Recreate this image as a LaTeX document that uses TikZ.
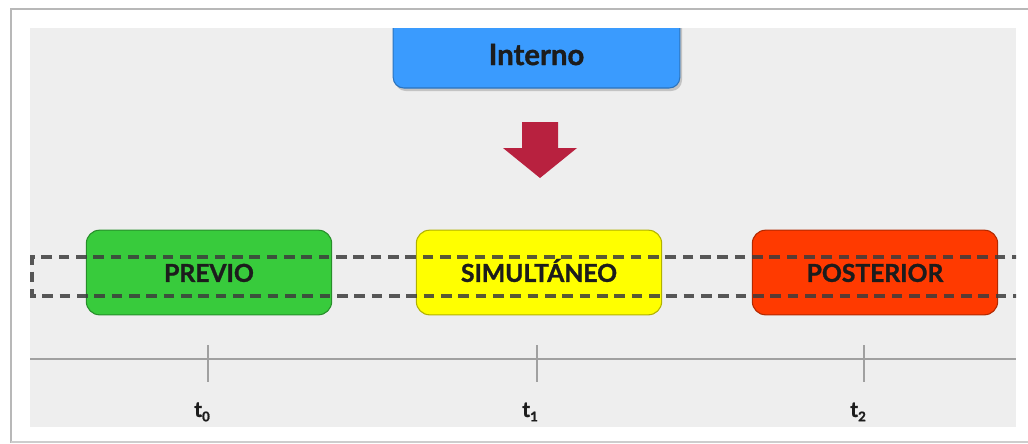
\documentclass[tikz,border=0pt]{standalone}
\usepackage{fontspec}
\setmainfont{Lato}[BoldFeatures={FakeBold=1.2}]
\definecolor{panelgray}{HTML}{EEEEEE}
\definecolor{framegray}{HTML}{B8B8B8}
\definecolor{internoblue}{HTML}{3A9BFE}
\definecolor{previogreen}{HTML}{38CB3C}
\definecolor{simulyellow}{HTML}{FFFF00}
\definecolor{posterred}{HTML}{FF3A00}
\definecolor{arrowred}{HTML}{B8213F}
\definecolor{labelink}{HTML}{1C1C1C}
\definecolor{axisgray}{HTML}{A0A0A0}
\definecolor{dashgray}{HTML}{3C3C3C}
\tikzset{
  phase/.style={draw=#1!70!black, line width=0.8pt, fill=#1, rounded corners=10pt,
    minimum width=184pt, minimum height=63.5pt, inner sep=0pt},
  phaselabel/.style={font=\fontsize{18.5}{20}\selectfont\bfseries, text=labelink,
    text height=1.9ex, text depth=0pt, inner sep=0pt},
  source/.style={draw=internoblue!75!black, line width=0.8pt, fill=internoblue, rounded corners=8pt,
    minimum width=215pt, minimum height=58.5pt, inner sep=0pt},
  sourcelabel/.style={font=\fontsize{22}{24}\selectfont\bfseries, text=labelink,
    text height=2ex, text depth=0.5ex, inner sep=0pt},
  band/.style={draw=dashgray, draw opacity=0.85, line width=2.6pt, dash pattern=on 8pt off 5pt},
  axis/.style={draw=axisgray, line width=1.6pt},
  tick/.style={draw=axisgray, line width=1.2pt},
  instant/.style={font=\fontsize{16}{18}\selectfont\bfseries, text=labelink, inner sep=0pt},
}
\newcommand{\tsub}[1]{t\raisebox{-0.4ex}{\fontsize{10}{11}\selectfont #1}}
\begin{document}
\begin{tikzpicture}[x=0.75pt,y=-0.75pt]
  \useasboundingbox (0,0) rectangle (1028,443);
  \fill[white] (0,0) rectangle (1028,443);
  % outer frame
  \draw[framegray, line width=1.6pt] (1028,9) -- (11,9) -- (11,443);
  \draw[framegray!70, line width=1.2pt] (11,442) -- (1028,442);
  % panel
  \fill[panelgray] (30,28) rectangle (1016,427);
  \begin{scope}
    \clip (30,28) rectangle (1016,427);
    % source box, its top cut by the panel edge
    \fill[black, opacity=0.18, rounded corners=8pt] (395,12) rectangle (682,91);
    \node[source] (interno) at (536.5,49) {};
    \node[sourcelabel] (internolabel) at (536.5,60) {Interno};
    % phases
    \node[phase=previogreen] (previo) at (209,272.5) {};
    \node[phase=simulyellow] (simul) at (539,272.5) {};
    \node[phase=posterred] (poster) at (875,272.5) {};
    % dashed band across the phases
    \draw[band] (1040,257) -- (32,257) -- (32,296) -- (1040,296);
    \node[phaselabel] at ([yshift=-2.2pt]previo) {PREVIO};
    \node[phaselabel] at ([yshift=-2.2pt]simul) {SIMULTÁNEO};
    \node[phaselabel] at ([yshift=-2.2pt]poster) {POSTERIOR};
  \end{scope}
  % block arrow from the source down to the phases
  \fill[arrowred] (522,122) -- (558,122) -- (558,148) -- (577,148) -- (540,178)
    -- (503,148) -- (522,148) -- cycle;
  % time axis
  \coordinate (axisL) at (30,359);
  \coordinate (axisR) at (1016,359);
  \draw[axis] (axisL) -- (axisR);
  \foreach \x/\n in {208/0,537/1,864/2}{
    \coordinate (tk\n a) at (\x,345);
    \coordinate (tk\n b) at (\x,382);
    \draw[tick] (tk\n a) -- (tk\n b);
  }
  \node[instant] (t0) at (202,412) {\tsub{0}};
  \node[instant] (t1) at (530,412) {\tsub{1}};
  \node[instant] (t2) at (858,412) {\tsub{2}};
\end{tikzpicture}
\end{document}
